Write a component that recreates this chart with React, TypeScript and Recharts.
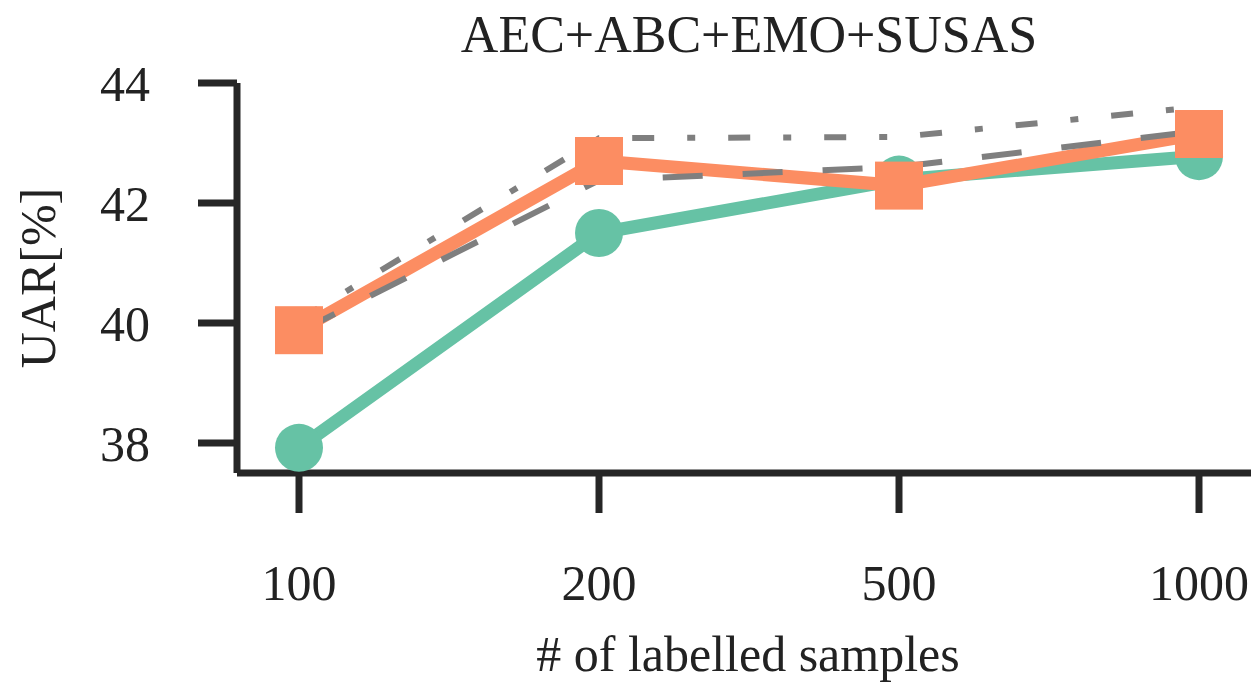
import { LineChart, Line, XAxis, YAxis } from 'recharts'

// UAR (%) vs. number of labelled samples
const SAMPLES = ['100', '200', '500', '1000']
const GREEN_SERIES = [37.92, 41.5, 42.39, 42.78]
const ORANGE_SERIES = [39.88, 42.7, 42.29, 43.15]
const DASHED_SERIES = [39.85, 42.38, 42.6, 43.2]
const DASHDOT_SERIES = [40.05, 43.08, 43.1, 43.6]
const Y_TICKS = [38, 40, 42, 44]

const COLORS = {
  green: '#66c2a5',
  orange: '#fc8d62',
  gray: '#7f7f7f',
  axis: '#262626',
  text: '#222222',
}

const FONT = '"Liberation Serif", "DejaVu Serif", serif'

const data = SAMPLES.map((s, i) => ({
  samples: s,
  green: GREEN_SERIES[i],
  orange: ORANGE_SERIES[i],
  dashed: DASHED_SERIES[i],
  dashdot: DASHDOT_SERIES[i],
}))

const SquareDot = (props: any) => {
  const { cx, cy, index } = props
  if (cx == null || cy == null) return null
  return <rect key={`sq-${index}`} x={cx - 24} y={cy - 24} width={48} height={48} fill={COLORS.orange} />
}

const tickStyle = { fill: COLORS.text, fontSize: 50, fontFamily: FONT }
const axisStyle = { stroke: COLORS.axis, strokeWidth: 7 }

export default function App() {
  return (
    <div style={{ position: 'absolute', left: 0, top: 0, width: 1251, height: 688, background: '#fff' }}>
      <div
        style={{
          position: 'absolute',
          left: 749,
          top: 10,
          transform: 'translateX(-50%)',
          fontFamily: FONT,
          fontSize: 52,
          lineHeight: '50px',
          color: COLORS.text,
          whiteSpace: 'nowrap',
        }}
      >
        AEC+ABC+EMO+SUSAS
      </div>
      <LineChart width={1251} height={688} data={data} margin={{ top: 83, right: 0, left: 0, bottom: 0 }}>
        <XAxis
          dataKey="samples"
          height={215}
          padding={{ left: 62, right: 52 }}
          axisLine={axisStyle}
          tickLine={axisStyle}
          tickSize={40}
          tickMargin={51}
          tick={tickStyle}
          label={{
            content: () => (
              <text x={748} y={671} textAnchor="middle" fontSize={50} fontFamily={FONT} fill={COLORS.text}>
                # of labelled samples
              </text>
            ),
          }}
        />
        <YAxis
          width={237}
          domain={[37.5, 44]}
          ticks={Y_TICKS}
          axisLine={axisStyle}
          tickLine={axisStyle}
          tickSize={39}
          tickMargin={48}
          tick={tickStyle}
          label={{
            content: () => (
              <text
                x={38}
                y={278}
                transform="rotate(-90 38 278)"
                textAnchor="middle"
                dominantBaseline="central"
                fontSize={50}
                fontFamily={FONT}
                fill={COLORS.text}
              >
                UAR[%]
              </text>
            ),
          }}
        />
        <Line
          dataKey="green"
          stroke={COLORS.green}
          strokeWidth={13}
          dot={{ r: 24, fill: COLORS.green, stroke: 'none' }}
          activeDot={false}
          isAnimationActive={false}
        />
        <Line
          dataKey="orange"
          stroke={COLORS.orange}
          strokeWidth={13}
          dot={SquareDot}
          activeDot={false}
          isAnimationActive={false}
        />
        <Line
          dataKey="dashed"
          stroke={COLORS.gray}
          strokeWidth={6}
          strokeDasharray="40 40"
          dot={false}
          activeDot={false}
          isAnimationActive={false}
        />
        <Line
          dataKey="dashdot"
          stroke={COLORS.gray}
          strokeWidth={6}
          strokeDasharray="22 33 8 33"
          dot={false}
          activeDot={false}
          isAnimationActive={false}
        />
      </LineChart>
    </div>
  )
}
